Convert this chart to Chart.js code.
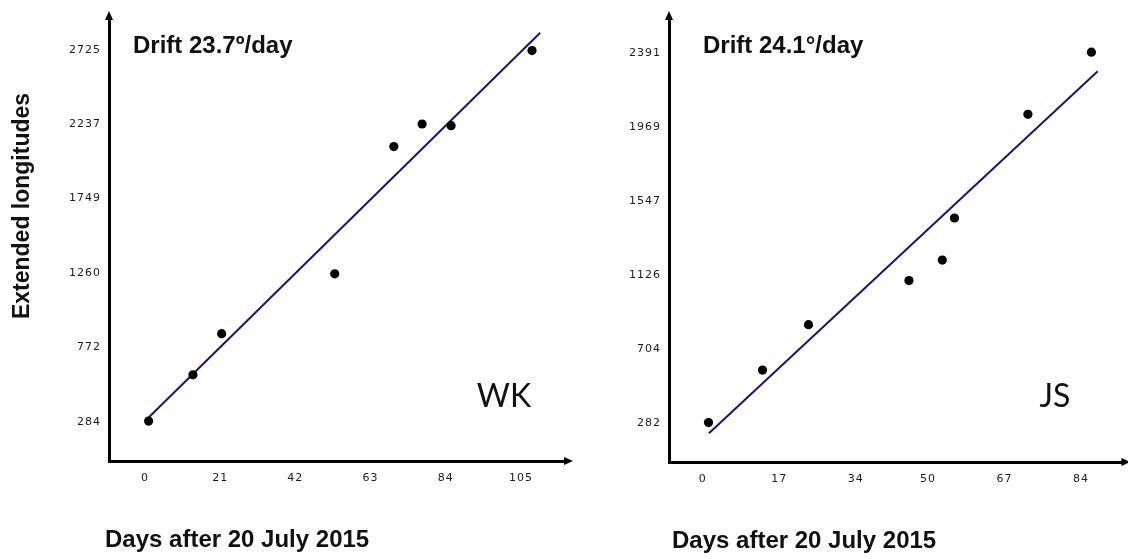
<!DOCTYPE html>
<html><head><meta charset="utf-8">
<script src="https://cdn.jsdelivr.net/npm/chart.js@4/dist/chart.umd.min.js"></script>
<style>
html,body{margin:0;padding:0;background:#fff;width:1128px;height:559px;overflow:hidden}
canvas{position:absolute;top:0}
</style></head><body>
<canvas id="c1" width="580" height="559" style="left:0"></canvas>
<canvas id="c2" width="548" height="559" style="left:580px"></canvas>
<script>
// ---- WK panel ----
const wkDays        = [1.0, 13.4, 21.4, 53.0, 69.5, 77.4, 85.5, 108.1];
const wkLongitudes  = [288, 592, 862, 1255, 2091, 2239, 2228, 2721];
const wkFitDays     = [0.3, 110.4];
const wkFitLongitudes = [295, 2838];
const wkXTicks      = [0, 21, 42, 63, 84, 105];
const wkYTicks      = [284, 772, 1260, 1749, 2237, 2725];
const wkDrift       = 'Drift 23.7º/day';
const wkName        = 'WK';

// ---- JS panel ----
const jsDays        = [1.3, 13.3, 23.5, 45.8, 53.2, 55.9, 72.2, 86.3];
const jsLongitudes  = [286, 585, 844, 1095, 1212, 1452, 2043, 2397];
const jsFitDays     = [1.4, 87.7];
const jsFitLongitudes = [225, 2288];
const jsXTicks      = [0, 17, 34, 50, 67, 84];
const jsYTicks      = [282, 704, 1126, 1547, 1969, 2391];
const jsDrift       = 'Drift 24.1°/day';
const jsName        = 'JS';

const xTitle = 'Days after 20 July 2015';
const yTitle = 'Extended longitudes';

Chart.defaults.devicePixelRatio = 1;

function pts(xs, ys){ return xs.map((x,i)=>({x:x, y:ys[i]})); }

const decor = {
  id:'decor',
  beforeDraw(chart){ chart.ctx.letterSpacing = '1px'; },
  afterDraw(chart){
    const o = chart.options.plugins.decor;
    const ctx = chart.ctx, a = chart.chartArea;
    ctx.save();
    ctx.letterSpacing = '0px';
    ctx.fillStyle = '#000';
    // arrow heads
    ctx.beginPath();
    ctx.moveTo(a.left, a.top - 7);
    ctx.lineTo(a.left - 4, a.top + 2);
    ctx.lineTo(a.left + 4, a.top + 2);
    ctx.closePath(); ctx.fill();
    ctx.beginPath();
    ctx.moveTo(a.right + 7, a.bottom);
    ctx.lineTo(a.right - 2, a.bottom - 4);
    ctx.lineTo(a.right - 2, a.bottom + 4);
    ctx.closePath(); ctx.fill();
    // texts
    ctx.fillStyle = '#111';
    ctx.textBaseline = 'alphabetic';
    ctx.textAlign = 'left';
    ctx.font = 'bold 24px "Liberation Sans", Arial, sans-serif';
    ctx.fillText(o.drift, a.left + o.driftDx, 53);
    ctx.fillText(o.xTitle, a.left + o.xTitleDx, o.xTitleY);
    ctx.font = '32px Lato, "Liberation Sans", sans-serif';
    ctx.textAlign = 'center';
    ctx.fillText(o.name, a.left + o.nameDx, 407);
    if (o.yTitle) {
      ctx.save();
      ctx.translate(29, 206);
      ctx.rotate(-Math.PI/2);
      ctx.font = 'bold 23px "Liberation Sans", Arial, sans-serif';
      ctx.textAlign = 'center';
      ctx.fillText(o.yTitle, 0, 0);
      ctx.restore();
    }
    ctx.restore();
  }
};

function makeChart(id, c){
  return new Chart(document.getElementById(id), {
    type:'scatter',
    data:{ datasets:[
      { type:'line', data: pts(c.fitX, c.fitY), borderColor:'#17176c', borderWidth:2,
        pointRadius:0, fill:false, tension:0, order:2 },
      { data: pts(c.x, c.y), backgroundColor:'#000', borderColor:'#000', borderWidth:0,
        pointRadius:4.6, pointHoverRadius:4.6, order:1 }
    ]},
    options:{
      responsive:false, animation:false, events:[],
      layout:{ padding:{ top:18, right:c.padRight, left:0, bottom:0 } },
      plugins:{ legend:{display:false}, tooltip:{enabled:false},
        decor:{ drift:c.drift, name:c.name, xTitle:xTitle, yTitle:c.yTitle,
                driftDx:c.driftDx, xTitleDx:c.xTitleDx, xTitleY:c.xTitleY, nameDx:c.nameDx } },
      scales:{
        x:{ type:'linear', min:c.xMin, max:c.xMax,
            afterBuildTicks: s => { s.ticks = c.xTicks.map(v=>({value:v})); },
            afterFit: s => { s.height = c.xAxisH; },
            grid:{ display:false }, border:{ display:true, color:'#000', width:3 },
            ticks:{ autoSkip:false, maxRotation:0, padding:3, color:'#1a1a1a',
                    font:{ family:'"DejaVu Sans", sans-serif', size:11 },
                    callback: v => String(v) } },
        y:{ type:'linear', min:c.yMin, max:c.yMax,
            afterBuildTicks: s => { s.ticks = c.yTicks.map(v=>({value:v})); },
            afterFit: s => { s.width = c.yAxisW; },
            grid:{ display:false }, border:{ display:true, color:'#000', width:3 },
            ticks:{ autoSkip:false, padding:0, color:'#1a1a1a',
                    font:{ family:'"DejaVu Sans", sans-serif', size:11 },
                    callback: v => String(v) } }
      }
    },
    plugins:[decor]
  });
}

makeChart('c1', { x:wkDays, y:wkLongitudes, fitX:wkFitDays, fitY:wkFitLongitudes,
  xTicks:wkXTicks, yTicks:wkYTicks, drift:wkDrift, name:wkName, yTitle:yTitle,
  xMin:-10.06, xMax:117.6, yMin:26, yMax:2935, padRight:14, yAxisW:109, xAxisH:98,
  driftDx:24, xTitleDx:-4, xTitleY:547, nameDx:395 });

makeChart('c2', { x:jsDays, y:jsLongitudes, fitX:jsFitDays, fitY:jsFitLongitudes,
  xTicks:jsXTicks, yTicks:jsYTicks, drift:jsDrift, name:jsName, yTitle:null,
  xMin:-7.47, xMax:93.4, yMin:61, yMax:2592, padRight:0, yAxisW:89, xAxisH:97,
  driftDx:34, xTitleDx:3, xTitleY:548, nameDx:386 });
</script>
</body></html>
